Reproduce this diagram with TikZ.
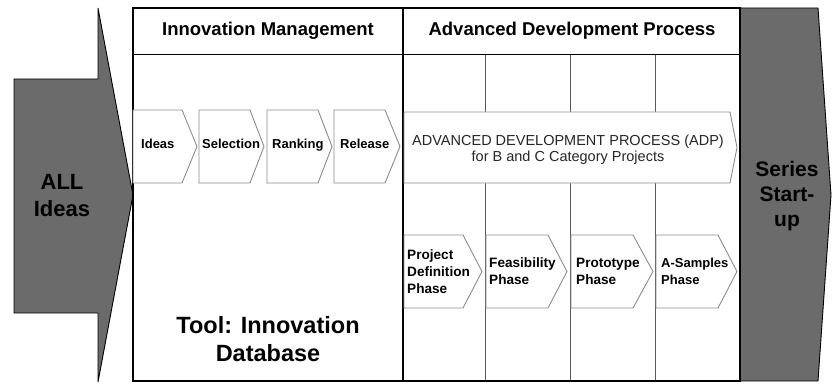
\documentclass[tikz,border=0pt]{standalone}
\usepackage{fontspec}
\setmainfont{Liberation Sans}
\begin{document}
\begin{tikzpicture}[x=1pt,y=-1pt,
  darkfill/.style={fill=black!58, draw=black, line width=0.9pt},
  frameline/.style={draw=black, line width=1.3pt},
  colline/.style={draw=black!65, line width=1pt},
  chev/.style={draw=black!45, fill=white, line width=0.9pt},
  smalllbl/.style={font=\bfseries\fontsize{13}{15}\selectfont, anchor=base west, inner sep=0pt},
  phaselbl/.style={font=\bfseries\fontsize{13.6}{17}\selectfont, anchor=west, align=left, inner sep=0pt},
  headlbl/.style={font=\bfseries\fontsize{18.5}{22}\selectfont, inner sep=0pt},
  biglbl/.style={font=\bfseries\fontsize{21}{25}\selectfont, align=center, inner sep=0pt}
]
\useasboundingbox (0,0) rectangle (832,385);
% left big arrow
\draw[darkfill] (14,79) -- (98,79) -- (98,8) -- (133,195) -- (98,382) -- (98,313) -- (14,313) -- cycle;
\node[biglbl, font=\bfseries\fontsize{22}{27}\selectfont] (allideas) at (62,196) {ALL\\Ideas};
% series start-up
\draw[darkfill] (740,8) -- (818,8) -- (831,195) -- (818,381) -- (740,381) -- cycle;
\node[biglbl] (series) at (787,196) {Series\\Start-\\up};
% ADP column lines
\draw[colline] (485,55) -- (485,381);
\draw[colline] (570,55) -- (570,381);
\draw[colline] (655,55) -- (655,381);
% frame
\draw[frameline] (133,8) rectangle (740,381);
\draw[frameline] (403,8) -- (403,381);
\draw[frameline, line width=1pt] (133,55) -- (740,55);
\node[headlbl] (im) at (268,31) {Innovation Management};
\node[headlbl] (adp) at (572,31) {Advanced Development Process};
% innovation chevrons
\draw[chev] (133,110) -- (182,110) -- (197,146.5) -- (182,183) -- (133,183) -- cycle;
\draw[chev] (199,110) -- (250,110) -- (264,146.5) -- (250,183) -- (199,183) -- cycle;
\draw[chev] (267,110) -- (318,110) -- (332,146.5) -- (318,183) -- (267,183) -- cycle;
\draw[chev] (334,110) -- (385,110) -- (400,146.5) -- (385,183) -- (334,183) -- cycle;
\node[smalllbl] (ideas) at (141,148.5) {Ideas};
\node[smalllbl] (sel) at (202,148.5) {Selection};
\node[smalllbl] (rank) at (272,148.5) {Ranking};
\node[smalllbl] (rel) at (340,148.5) {Release};
% ADP chevron
\draw[chev] (404,112) -- (730,112) -- (737,147.5) -- (730,183) -- (404,183) -- cycle;
\node[font=\fontsize{14.5}{16.5}\selectfont, align=center, inner sep=0pt, text=black!85] (adptext) at (568,150) {ADVANCED DEVELOPMENT PROCESS (ADP)\\for B and C Category Projects};
% phase chevrons
\draw[chev] (404,235) -- (463,235) -- (482,271.5) -- (463,308) -- (404,308) -- cycle;
\draw[chev] (486,235) -- (548,235) -- (567,271.5) -- (548,308) -- (486,308) -- cycle;
\draw[chev] (571,235) -- (633,235) -- (653,271.5) -- (633,308) -- (571,308) -- cycle;
\draw[chev] (656,235) -- (718,235) -- (737,271.5) -- (718,308) -- (656,308) -- cycle;
\node[phaselbl] (pdp) at (407,272) {Project\\Definition\\Phase};
\node[phaselbl] (fp) at (489,271) {Feasibility\\Phase};
\node[phaselbl] (pp) at (576,271) {Prototype\\Phase};
\node[phaselbl, font=\bfseries\fontsize{13}{17}\selectfont] (asp) at (661,271) {A-Samples\\Phase};
% tool label
\node[biglbl, font=\bfseries\fontsize{23.5}{28}\selectfont] (tool) at (268,339) {Tool: Innovation\\Database};
\end{tikzpicture}
\end{document}
